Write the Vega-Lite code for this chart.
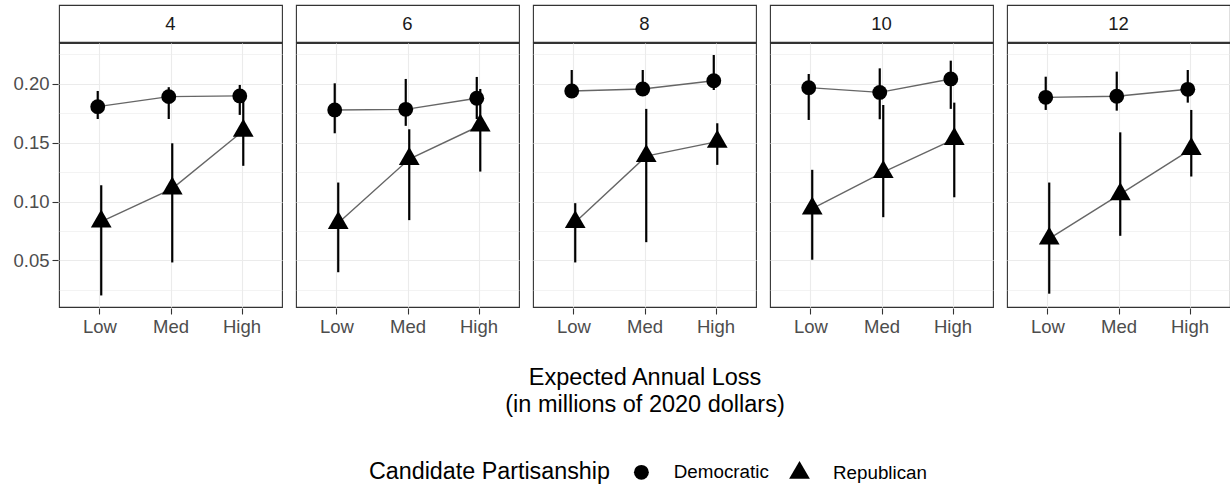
{
  "$schema": "https://vega.github.io/schema/vega-lite/v6.json",
  "background": "white",
  "padding": {"left": 12, "top": 4, "right": 0, "bottom": 5},
  "config": {
    "font": "Liberation Sans",
    "view": {"stroke": "#333333", "strokeWidth": 1.1, "fill": "white"},
    "axis": {"domain": false, "gridColor": "#ebebeb", "gridWidth": 1.1, "tickColor": "#333333", "tickSize": 6, "tickWidth": 1.1, "labelColor": "#4d4d4d", "labelFontSize": 18.5, "labelPadding": 3, "titleColor": "black"},
    "legend": {"orient": "none", "legendX": 310, "legendY": 457, "direction": "horizontal", "titleOrient": "left", "titleFontSize": 23.3, "titleFontWeight": "normal", "titleColor": "black", "titleLimit": 500, "labelFontSize": 18.8, "labelColor": "black", "titlePadding": 22, "labelOffset": 23, "columnPadding": 20, "symbolFillColor": "black", "symbolStrokeColor": "black", "symbolStrokeWidth": 0, "titleBaseline": "middle"}
  },
  "data": {"values": [
    {"e": 4, "l": "Low", "p": "Democratic", "est": 0.1805, "lo": 0.170, "hi": 0.1938},
    {"e": 4, "l": "Med", "p": "Democratic", "est": 0.189, "lo": 0.170, "hi": 0.197},
    {"e": 4, "l": "High", "p": "Democratic", "est": 0.1896, "lo": 0.1735, "hi": 0.1989},
    {"e": 4, "l": "Low", "p": "Republican", "est": 0.083, "lo": 0.0203, "hi": 0.1138},
    {"e": 4, "l": "Med", "p": "Republican", "est": 0.111, "lo": 0.0483, "hi": 0.1494},
    {"e": 4, "l": "High", "p": "Republican", "est": 0.160, "lo": 0.1303, "hi": 0.1896},
    {"e": 6, "l": "Low", "p": "Democratic", "est": 0.1777, "lo": 0.1579, "hi": 0.2003},
    {"e": 6, "l": "Med", "p": "Democratic", "est": 0.1782, "lo": 0.1642, "hi": 0.204},
    {"e": 6, "l": "High", "p": "Democratic", "est": 0.1876, "lo": 0.170, "hi": 0.2057},
    {"e": 6, "l": "Low", "p": "Republican", "est": 0.0817, "lo": 0.040, "hi": 0.1161},
    {"e": 6, "l": "Med", "p": "Republican", "est": 0.136, "lo": 0.0842, "hi": 0.1613},
    {"e": 6, "l": "High", "p": "Republican", "est": 0.1645, "lo": 0.1254, "hi": 0.1955},
    {"e": 8, "l": "Low", "p": "Democratic", "est": 0.1938, "lo": 0.191, "hi": 0.2116},
    {"e": 8, "l": "Med", "p": "Democratic", "est": 0.1955, "lo": 0.192, "hi": 0.2116},
    {"e": 8, "l": "High", "p": "Democratic", "est": 0.2025, "lo": 0.1946, "hi": 0.2243},
    {"e": 8, "l": "Low", "p": "Republican", "est": 0.0825, "lo": 0.0483, "hi": 0.0986},
    {"e": 8, "l": "Med", "p": "Republican", "est": 0.1385, "lo": 0.0655, "hi": 0.1786},
    {"e": 8, "l": "High", "p": "Republican", "est": 0.1508, "lo": 0.1311, "hi": 0.1664},
    {"e": 10, "l": "Low", "p": "Democratic", "est": 0.1966, "lo": 0.1692, "hi": 0.2082},
    {"e": 10, "l": "Med", "p": "Democratic", "est": 0.1926, "lo": 0.1698, "hi": 0.213},
    {"e": 10, "l": "High", "p": "Democratic", "est": 0.204, "lo": 0.1786, "hi": 0.2195},
    {"e": 10, "l": "Low", "p": "Republican", "est": 0.094, "lo": 0.0506, "hi": 0.1269},
    {"e": 10, "l": "Med", "p": "Republican", "est": 0.125, "lo": 0.0867, "hi": 0.1819},
    {"e": 10, "l": "High", "p": "Republican", "est": 0.153, "lo": 0.1036, "hi": 0.1839},
    {"e": 12, "l": "Low", "p": "Democratic", "est": 0.1884, "lo": 0.1777, "hi": 0.2059},
    {"e": 12, "l": "Med", "p": "Democratic", "est": 0.1893, "lo": 0.1771, "hi": 0.2102},
    {"e": 12, "l": "High", "p": "Democratic", "est": 0.1952, "lo": 0.1839, "hi": 0.2116},
    {"e": 12, "l": "Low", "p": "Republican", "est": 0.0685, "lo": 0.0218, "hi": 0.1161},
    {"e": 12, "l": "Med", "p": "Republican", "est": 0.1062, "lo": 0.0709, "hi": 0.1587},
    {"e": 12, "l": "High", "p": "Republican", "est": 0.1445, "lo": 0.1212, "hi": 0.1777}
  ]},
  "spacing": -3,
  "vconcat": [
    {
      "transform": [{"aggregate": [{"op": "count", "as": "n"}], "groupby": ["e"]}],
      "facet": {"column": {"field": "e", "type": "ordinal", "header": null}},
      "spacing": 12,
      "spec": {
        "width": 223,
        "height": 37,
        "mark": {"type": "text", "fontSize": 18.5, "color": "#1a1a1a"},
        "encoding": {
          "text": {"field": "e", "type": "nominal"},
          "y": {"datum": 0.5, "type": "quantitative", "scale": {"domain": [0, 1]}, "axis": {"values": [0.5], "format": ".2f", "labelColor": "transparent", "tickColor": "transparent", "grid": false, "title": null}}
        }
      }
    },
    {
      "facet": {"column": {"field": "e", "type": "ordinal", "header": {"title": ["Expected Annual Loss", "(in millions of 2020 dollars)"], "titleOrient": "bottom", "labels": false, "titleFontSize": 23.5, "titleFontWeight": "normal", "titleColor": "black", "titleLineHeight": 26.5, "titlePadding": 20}}},
      "spacing": 12,
      "spec": {
        "width": 223,
        "height": 264,
        "encoding": {
          "x": {"field": "l", "type": "nominal", "title": null, "sort": ["Low", "Med", "High"], "scale": {"type": "point", "padding": 0.57}, "axis": {"grid": true, "labelAngle": 0}},
          "xOffset": {"field": "p", "type": "nominal", "scale": {"type": "point", "domain": ["Democratic", "Republican"], "range": [-3.5, 3.5]}}
        },
        "layer": [
          {
            "mark": {"type": "line", "color": "#666666", "strokeWidth": 1.4},
            "encoding": {
              "y": {"field": "est", "type": "quantitative", "scale": {"domain": [0.0105, 0.2345], "nice": false, "zero": false}, "axis": {"orient": "left", "values": [0.025, 0.075, 0.125, 0.175, 0.225], "grid": true, "gridWidth": 0.6, "labels": false, "ticks": false, "domain": false, "title": null, "labelPadding": 0, "tickSize": 0}},
              "detail": {"field": "p", "type": "nominal"}
            }
          },
          {
            "mark": {"type": "rule", "color": "black", "strokeWidth": 2.2},
            "encoding": {
              "y": {"field": "lo", "type": "quantitative", "axis": null},
              "y2": {"field": "hi"}
            }
          },
          {
            "mark": {"type": "point", "filled": true, "color": "black", "opacity": 1},
            "encoding": {
              "y": {"field": "est", "type": "quantitative", "axis": {"orient": "left", "values": [0.05, 0.1, 0.15, 0.2], "format": ".2f", "title": null, "grid": true}},
              "shape": {"field": "p", "type": "nominal", "title": "Candidate Partisanship", "scale": {"domain": ["Democratic", "Republican"], "range": ["circle", "M0,-1.155L1,0.577L-1,0.577Z"]}},
              "size": {"field": "p", "type": "nominal", "title": "Candidate Partisanship", "scale": {"domain": ["Democratic", "Republican"], "range": [220, 430]}}
            }
          }
        ],
        "resolve": {"axis": {"y": "independent"}}
      }
    }
  ]
}
